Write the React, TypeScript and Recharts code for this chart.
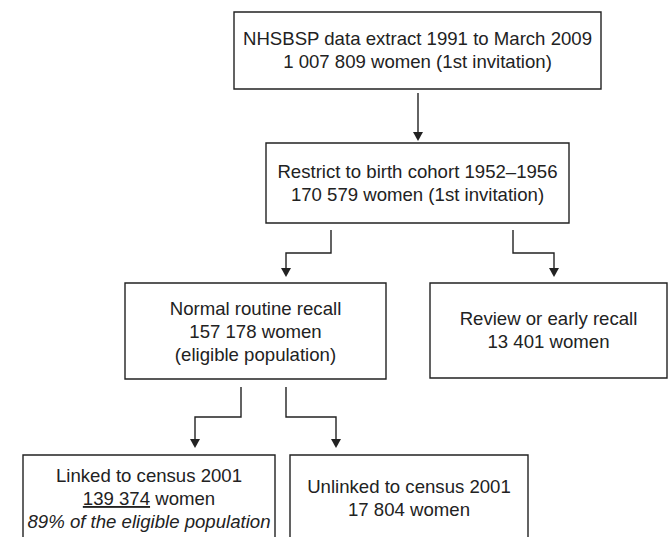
import { ComposedChart, XAxis, YAxis, ReferenceArea, Line, Scatter } from 'recharts'

const W = 672
const H = 537

// boxes of the flow diagram, in diagram units (x to the right, y downwards)
const boxes = [
  { id: 'extract', x1: 234, x2: 601, y1: 12, y2: 89 },
  { id: 'cohort', x1: 266, x2: 569, y1: 143, y2: 223 },
  { id: 'routine', x1: 125, x2: 386, y1: 283, y2: 379 },
  { id: 'review', x1: 430, x2: 667, y1: 283, y2: 378 },
  { id: 'linked', x1: 23, x2: 275, y1: 455, y2: 560 },
  { id: 'unlinked', x1: 290, x2: 528, y1: 455, y2: 560 },
]

// connectors: polylines ending at an arrow tip
const connectors = [
  [{ x: 418, y: 93 }, { x: 418, y: 133 }],
  [{ x: 331, y: 230 }, { x: 331, y: 253 }, { x: 286, y: 253 }, { x: 286, y: 270 }],
  [{ x: 513, y: 230 }, { x: 513, y: 253 }, { x: 554, y: 253 }, { x: 554, y: 270 }],
  [{ x: 241, y: 387 }, { x: 241, y: 417 }, { x: 195, y: 417 }, { x: 195, y: 441 }],
  [{ x: 286, y: 387 }, { x: 286, y: 417 }, { x: 336, y: 417 }, { x: 336, y: 441 }],
]

const arrowTips = [
  { x: 418, y: 141 },
  { x: 286, y: 277 },
  { x: 554, y: 277 },
  { x: 195, y: 448 },
  { x: 336, y: 448 },
]

// text lines, anchored at their baseline and centred on x
const labels = [
  { x: 417.5, y: 45, text: 'NHSBSP data extract 1991 to March 2009' },
  { x: 417.5, y: 68, text: '1 007 809 women (1st invitation)' },
  { x: 417.5, y: 178, text: 'Restrict to birth cohort 1952–1956' },
  { x: 417.5, y: 201, text: '170 579 women (1st invitation)' },
  { x: 255.5, y: 315, text: 'Normal routine recall' },
  { x: 255.5, y: 338, text: '157 178 women' },
  { x: 255.5, y: 361, text: '(eligible population)' },
  { x: 548.5, y: 325, text: 'Review or early recall' },
  { x: 548.5, y: 348, text: '13 401 women' },
  { x: 149, y: 482, text: 'Linked to census 2001' },
  { x: 149, y: 505, text: '139 374', after: ' women', underline: true },
  { x: 149, y: 528, text: '89% of the eligible population', italic: true },
  { x: 409, y: 493, text: 'Unlinked to census 2001' },
  { x: 409, y: 516, text: '17 804 women' },
]

const INK = '#222'
const FONT = '"Liberation Sans", Arial, Helvetica, sans-serif'

function Arrow(props: any) {
  const { cx, cy } = props
  return <path d={`M${cx - 5},${cy - 9} L${cx + 5},${cy - 9} L${cx},${cy} Z`} fill={INK} />
}

function Label(props: any) {
  const { cx, cy, payload } = props
  return (
    <text
      x={cx}
      y={cy}
      textAnchor="middle"
      fontFamily={FONT}
      fontSize={18.6}
      fill={INK}
      fontStyle={payload.italic ? 'italic' : 'normal'}
    >
      <tspan style={{ textDecoration: payload.underline ? 'underline' : 'none' }}>{payload.text}</tspan>
      {payload.after ? <tspan>{payload.after}</tspan> : null}
    </text>
  )
}

export default function App() {
  return (
    <div style={{ position: 'absolute', left: 0, top: 0, background: '#fff' }}>
      <ComposedChart width={W} height={H} margin={{ top: 0, right: 0, bottom: 0, left: 0 }}>
        <XAxis type="number" dataKey="x" domain={[0, W]} hide allowDataOverflow />
        <YAxis type="number" dataKey="y" domain={[0, H]} reversed hide allowDataOverflow width={0} />
        {boxes.map((b) => (
          <ReferenceArea
            key={b.id}
            x1={b.x1}
            x2={b.x2}
            y1={b.y1}
            y2={b.y2}
            fill="#fff"
            fillOpacity={1}
            stroke={INK}
            strokeWidth={1.4}
            ifOverflow="visible"
          />
        ))}
        {connectors.map((c, i) => (
          <Line
            key={i}
            data={c}
            dataKey="y"
            type="linear"
            stroke={INK}
            strokeWidth={1.4}
            dot={false}
            activeDot={false}
            isAnimationActive={false}
          />
        ))}
        <Scatter data={arrowTips} dataKey="y" shape={<Arrow />} isAnimationActive={false} />
        <Scatter data={labels} dataKey="y" shape={<Label />} isAnimationActive={false} />
      </ComposedChart>
    </div>
  )
}
